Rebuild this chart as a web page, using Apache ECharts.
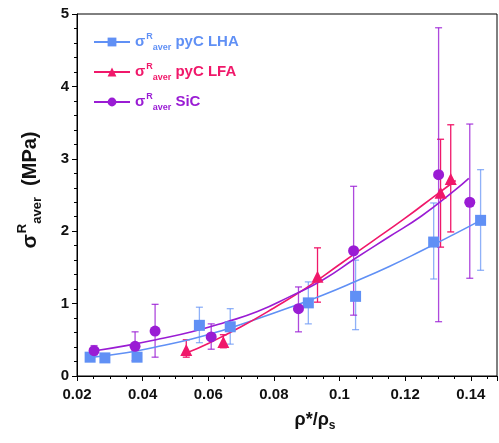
<!DOCTYPE html>
<html><head><meta charset="utf-8">
<script src="https://cdn.jsdelivr.net/npm/echarts@6/dist/echarts.min.js"></script>
<style>html,body{margin:0;padding:0;background:#fff}#c{width:499px;height:443px}</style>
</head><body><div id="c"></div>
<script>
// ---- data ----
const xTicks = [0.02, 0.04, 0.06, 0.08, 0.1, 0.12, 0.14];
const yTicks = [0, 1, 2, 3, 4, 5];

const lhaX  = [0.0240, 0.0285, 0.0383, 0.0573, 0.0667, 0.0905, 0.1049, 0.1287, 0.1430];
const lhaY  = [0.26, 0.25, 0.26, 0.70, 0.68, 1.01, 1.10, 1.85, 2.15];
const lhaHi = [null, null, null, 0.95, 0.93, 1.30, 1.60, 2.39, 2.85];
const lhaLo = [null, null, null, 0.46, 0.44, 0.72, 0.64, 1.34, 1.46];

const lfaX  = [0.0533, 0.0646, 0.0933, 0.1308, 0.1339];
const lfaY  = [0.36, 0.47, 1.37, 2.53, 2.72];
const lfaHi = [0.50, 0.57, 1.77, 3.27, 3.47];
const lfaLo = [0.26, 0.39, 1.02, 1.78, 1.99];

const sicX  = [0.0252, 0.0377, 0.0438, 0.0609, 0.0875, 0.1043, 0.1302, 0.1397];
const sicY  = [0.35, 0.41, 0.62, 0.54, 0.93, 1.73, 2.78, 2.40];
const sicHi = [0.42, 0.61, 0.99, 0.72, 1.23, 2.62, 4.81, 3.48];
const sicLo = [0.29, 0.21, 0.26, 0.37, 0.61, 0.84, 0.75, 1.35];

// fitted trend curves
const lhaFitX = [0.023, 0.035, 0.045, 0.055, 0.065, 0.075, 0.085, 0.095, 0.105, 0.115, 0.125, 0.135, 0.143];
const lhaFitY = [0.25, 0.32, 0.41, 0.51, 0.64, 0.79, 0.95, 1.12, 1.31, 1.51, 1.73, 1.96, 2.15];
const lfaFitX = [0.0535, 0.060, 0.070, 0.080, 0.090, 0.100, 0.110, 0.120, 0.130, 0.1354];
const lfaFitY = [0.32, 0.45, 0.68, 0.94, 1.22, 1.54, 1.86, 2.18, 2.52, 2.70];
const sicFitX = [0.025, 0.035, 0.045, 0.055, 0.065, 0.075, 0.085, 0.095, 0.105, 0.115, 0.125, 0.135, 0.1394];
const sicFitY = [0.345, 0.42, 0.51, 0.61, 0.74, 0.89, 1.10, 1.33, 1.63, 1.92, 2.21, 2.56, 2.73];

const names = ['LHA', 'LFA', 'SiC'];
const labels = ['pyC LHA', 'pyC LFA', 'SiC'];
const colors = ['#6090f5', '#f0186a', '#9a1cd4'];
const barOpacity = [0.7, 1, 0.8];

// ---- build ----
const zip = (a, b) => a.map((v, i) => [v, b[i]]);
const errData = (x, lo, hi) => x.map((v, i) => [v, lo[i], hi[i]]).filter(d => d[1] != null);

function errSeries(data, color, op) {
  return {
    type: 'custom', silent: true, z: 2,
    data: data,
    renderItem: function (params, api) {
      const x = api.value(0), lo = api.value(1), hi = api.value(2);
      const p1 = api.coord([x, lo]), p2 = api.coord([x, hi]);
      const w = 3.5;
      const st = { stroke: color, lineWidth: 1.3, opacity: op };
      return { type: 'group', children: [
        { type: 'line', shape: { x1: p1[0], y1: p1[1], x2: p2[0], y2: p2[1] }, style: st },
        { type: 'line', shape: { x1: p1[0] - w, y1: p1[1], x2: p1[0] + w, y2: p1[1] }, style: st },
        { type: 'line', shape: { x1: p2[0] - w, y1: p2[1], x2: p2[0] + w, y2: p2[1] }, style: st }
      ]};
    },
    encode: { x: 0, y: [1, 2] }
  };
}

const ptsX = [lhaX, lfaX, sicX], ptsY = [lhaY, lfaY, sicY];
const his = [lhaHi, lfaHi, sicHi], los = [lhaLo, lfaLo, sicLo];
const fitX = [lhaFitX, lfaFitX, sicFitX], fitY = [lhaFitY, lfaFitY, sicFitY];
const syms = ['rect', 'triangle', 'circle'];
const symSize = [11, 12, 11];

const series = [];
for (let k = 0; k < 3; k++) {
  series.push(errSeries(errData(ptsX[k], los[k], his[k]), colors[k], barOpacity[k]));
}
for (let k = 0; k < 3; k++) {
  series.push({
    name: names[k], type: 'line', smooth: true, showSymbol: false,
    symbol: syms[k], symbolSize: symSize[k], z: 3,
    lineStyle: { color: colors[k], width: 1.6 }, itemStyle: { color: colors[k] },
    data: zip(fitX[k], fitY[k]), silent: true
  });
}
for (let k = 0; k < 3; k++) {
  series.push({
    name: names[k] + '_pts', type: 'scatter', symbol: syms[k], symbolSize: symSize[k], z: 4,
    itemStyle: { color: colors[k], opacity: 1 },
    data: zip(ptsX[k], ptsY[k])
  });
}

const FONT = 'Liberation Sans';
function sigmaRich(color) {
  return {
    s: { fontFamily: FONT, fontWeight: 'bold', fontSize: 15, color: color },
    sup: { fontFamily: FONT, fontWeight: 'bold', fontSize: 9, color: color, padding: [0, 0, 11, 1] },
    sub: { fontFamily: FONT, fontWeight: 'bold', fontSize: 9, color: color, padding: [11, 0, 0, 0] },
    t: { fontFamily: FONT, fontWeight: 'bold', fontSize: 15, color: color }
  };
}
const legendRich = {};
names.forEach((n, k) => {
  const r = sigmaRich(colors[k]);
  legendRich['s' + k] = r.s; legendRich['p' + k] = r.sup; legendRich['b' + k] = r.sub; legendRich['t' + k] = r.t;
});

const chart = echarts.init(document.getElementById('c'), null, { renderer: 'canvas' });
chart.setOption({
  animation: false,
  backgroundColor: '#fff',
  grid: { left: 77, right: 2, top: 14, bottom: 67, show: true, borderColor: '#000', borderWidth: 1 },
  legend: {
    orient: 'vertical', left: 88, top: 27, itemWidth: 36, itemHeight: 11, itemGap: 10,
    data: names.map(n => ({ name: n })),
    formatter: function (name) {
      const k = names.indexOf(name);
      return '{s' + k + '|σ}{p' + k + '|R}{b' + k + '|aver}{t' + k + '| ' + labels[k] + '}';
    },
    textStyle: { rich: legendRich, fontFamily: FONT, fontWeight: 'bold', fontSize: 15 }
  },
  xAxis: {
    type: 'value', min: xTicks[0], max: 0.148, interval: 0.02,
    axisLine: { show: true, lineStyle: { color: '#000', width: 1 } },
    axisTick: { show: true, length: 5, inside: false, lineStyle: { color: '#000' } },
    minorTick: { show: true, splitNumber: 4, length: 3, lineStyle: { color: '#000' } },
    splitLine: { show: false },
    axisLabel: {
      showMaxLabel: false, margin: 11, color: '#111', fontFamily: FONT, fontWeight: 'bold', fontSize: 15,
      formatter: v => { const t = xTicks.find(q => Math.abs(q - v) < 1e-9); return t == null ? '' : String(t); }
    },
    name: '{a|ρ*/ρ}{b|s}', nameLocation: 'middle', nameGap: 33,
    nameTextStyle: {
      padding: [0, 0, 0, 56],
      rich: {
        a: { fontFamily: FONT, fontWeight: 'bold', fontSize: 18, color: '#111' },
        b: { fontFamily: FONT, fontWeight: 'bold', fontSize: 12, color: '#111', padding: [11, 0, 0, 0] }
      }
    }
  },
  yAxis: {
    type: 'value', min: yTicks[0], max: yTicks[yTicks.length - 1], interval: 1,
    axisLine: { show: true, lineStyle: { color: '#000', width: 1 } },
    axisTick: { show: true, length: 5, inside: false, lineStyle: { color: '#000' } },
    minorTick: { show: true, splitNumber: 5, length: 3, lineStyle: { color: '#000' } },
    splitLine: { show: false },
    axisLabel: { margin: 8, color: '#111', fontFamily: FONT, fontWeight: 'bold', fontSize: 15 },
    name: '{s|σ}{sup|R}{sub|aver}{t|  (MPa)}', nameLocation: 'middle', nameGap: 33, nameRotate: 90,
    nameTextStyle: {
      padding: [0, 0, 0, 10],
      rich: {
        s: { fontFamily: FONT, fontWeight: 'bold', fontSize: 21, color: '#111' },
        sup: { fontFamily: FONT, fontWeight: 'bold', fontSize: 13, color: '#111', padding: [0, 0, 15, 1] },
        sub: { fontFamily: FONT, fontWeight: 'bold', fontSize: 13, color: '#111', padding: [15, 0, 0, 0] },
        t: { fontFamily: FONT, fontWeight: 'bold', fontSize: 20, color: '#111' }
      }
    }
  },
  series: series
});
</script>
</body></html>
